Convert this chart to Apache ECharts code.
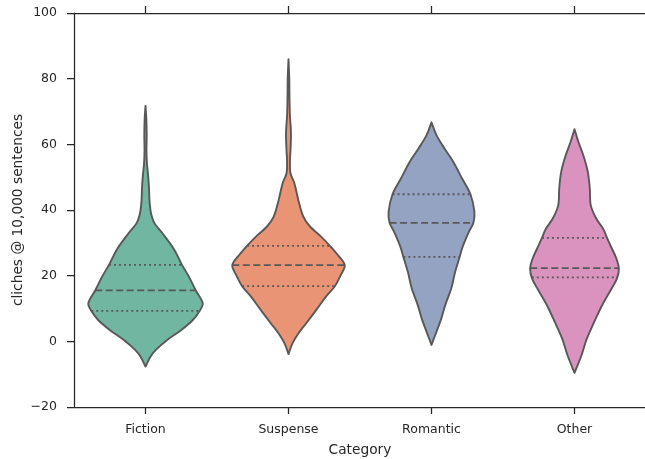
<!DOCTYPE html>
<html>
<head>
<meta charset="utf-8">
<script src="https://cdn.jsdelivr.net/npm/echarts@6/dist/echarts.min.js"></script>
<style>
  html, body { margin: 0; padding: 0; background: #ffffff; }
  #chart { width: 645px; height: 459px; }
</style>
</head>
<body>
<div id="chart"></div>
<script>
// Categories and y-axis ticks
const categories = ['Fiction', 'Suspense', 'Romantic', 'Other'];
const yTicks = [-20, 0, 20, 40, 60, 80, 100];

// Kernel density outlines: value levels (top to bottom) and density at each level
const fictionLevels   = [71.7, 68, 63, 58, 54, 51, 47, 43, 40, 38.5, 36, 33, 28, 23.3, 19.7, 15.5, 11.6, 9.3, 6.5, 3.4, 0.4, -2.6, -4.7, -7.7];
const fictionDensity  = [0, 0.8, 1.2, 1.0, 1.5, 2.5, 3.5, 4.0, 5, 6, 9, 17, 29, 37, 44, 51, 58, 55, 48, 36, 22, 10.5, 5, 0];

const suspenseLevels  = [85.9, 80, 74, 68.4, 65, 62.3, 58, 55.2, 51.2, 48.1, 43.0, 38.0, 34.9, 31.9, 29.1, 26.3, 23.2, 20.2, 16.8, 13.6, 9.5, 5.5, 2.4, -0.6, -3.9];
const suspenseDensity = [0, 0.8, 1.0, 1.5, 2.3, 2.5, 2, 1.5, 2, 6, 10, 15, 22, 33, 42, 50, 57, 53, 47, 38, 28, 18, 10, 4, 0];

const romanticLevels  = [66.7, 62.8, 58.8, 54.7, 49.6, 44.8, 39.5, 36.1, 33.4, 30.3, 28.3, 25.7, 21.2, 16.1, 11.1, 7.0, 2.9, -1.1];
const romanticDensity = [0, 5, 13, 22, 31, 39.5, 43.5, 42.5, 38, 33.5, 31, 28.5, 24, 20, 14, 10, 5, 0];

const otherLevels     = [64.6, 60.7, 56.6, 51.6, 46.5, 41.4, 37.4, 34.3, 31.5, 28.2, 25.2, 22.1, 19.1, 16.0, 11.0, 5.9, 0.8, -4.3, -9.6];
const otherDensity    = [0, 4, 9, 13.5, 15.5, 16.5, 22, 29, 33, 38, 42.5, 45, 43, 37.5, 28, 20, 12.5, 7, 0];

// Quartiles per category
const q1Values     = [9.3, 16.8, 25.7, 19.5];
const medianValues = [15.5, 23.2, 36.1, 22.3];
const q3Values     = [23.3, 29.1, 44.8, 31.5];

const fillColors = ['#71b6a1', '#e99575', '#95a3c3', '#da93bf'];
const edgeColor = '#585858';
const inkColor = '#262626';
const fontFamily = 'DejaVu Sans';

const profiles = [
  { levels: fictionLevels, density: fictionDensity },
  { levels: suspenseLevels, density: suspenseDensity },
  { levels: romanticLevels, density: romanticDensity },
  { levels: otherLevels, density: otherDensity }
];
const maxDensity = Math.max(...profiles.map(p => Math.max(...p.density)));

// Density at an arbitrary value, for sizing the quartile lines
function densityAt(p, v) {
  for (let k = 0; k < p.levels.length - 1; k++) {
    const a = p.levels[k], b = p.levels[k + 1];
    if (v <= a && v >= b) {
      const t = (a - v) / (a - b);
      return p.density[k] + t * (p.density[k + 1] - p.density[k]);
    }
  }
  return 0;
}

// Smooth curve x(y) through pixel points, written as cubic Bezier segments
function curveSegments(pts) {
  const n = pts.length;
  const slope = pts.map((pt, k) => {
    const a = pts[Math.max(k - 1, 0)];
    const b = pts[Math.min(k + 1, n - 1)];
    return (b[0] - a[0]) / (b[1] - a[1]);
  });
  let d = '';
  for (let k = 0; k < n - 1; k++) {
    const p1 = pts[k], p2 = pts[k + 1];
    const h = (p2[1] - p1[1]) / 3;
    const c1x = p1[0] + slope[k] * h, c1y = p1[1] + h;
    const c2x = p2[0] - slope[k + 1] * h, c2y = p2[1] - h;
    d += ' C' + c1x.toFixed(2) + ',' + c1y.toFixed(2) + ' ' + c2x.toFixed(2) + ',' + c2y.toFixed(2) + ' ' + p2[0].toFixed(2) + ',' + p2[1].toFixed(2);
  }
  return d;
}

function renderViolin(params, api) {
  const i = api.value(0);
  const p = profiles[i];
  const cx = api.coord([i, 0])[0];
  const band = api.size([1, 0])[0];
  const scale = 0.4 * band / maxDensity;

  const right = p.levels.map((v, k) => [cx + p.density[k] * scale, api.coord([i, v])[1]]);
  const left = p.levels.map((v, k) => [cx - p.density[k] * scale, api.coord([i, v])[1]]).reverse();

  const pathData = 'M' + right[0][0].toFixed(2) + ',' + right[0][1].toFixed(2) +
    curveSegments(right) + curveSegments(left) + ' Z';

  const children = [{
    type: 'path',
    shape: { pathData: pathData },
    style: { fill: fillColors[i], stroke: edgeColor, lineWidth: 1.9, lineJoin: 'round' }
  }];

  const quartiles = [
    { v: q1Values[i], dash: [2, 3] },
    { v: medianValues[i], dash: [7, 3.5] },
    { v: q3Values[i], dash: [2, 3] }
  ];
  quartiles.forEach(q => {
    const hw = densityAt(p, q.v) * scale;
    const y = api.coord([i, q.v])[1];
    children.push({
      type: 'line',
      shape: { x1: cx - hw, y1: y, x2: cx + hw, y2: y },
      style: { stroke: edgeColor, lineWidth: 1.8, lineDash: q.dash, lineCap: 'butt' }
    });
  });

  return { type: 'group', children: children };
}

const chart = echarts.init(document.getElementById('chart'), null, { renderer: 'canvas' });

const axisLineStyle = { color: inkColor, width: 1.25 };
const labelStyle = { color: inkColor, fontFamily: fontFamily, fontSize: 12.5 };

chart.setOption({
  animation: false,
  backgroundColor: '#ffffff',
  grid: { left: 74, width: 572, top: 13, bottom: 52, containLabel: false, outerBoundsMode: 'none' },
  xAxis: [
    {
      type: 'category',
      data: categories,
      position: 'bottom',
      name: 'Category',
      nameLocation: 'middle',
      nameGap: 36,
      nameMoveOverlap: false,
      nameTextStyle: { color: inkColor, fontFamily: fontFamily, fontSize: 13.75 },
      axisLine: { show: true, onZero: false, lineStyle: axisLineStyle },
      axisTick: { show: true, alignWithLabel: true, length: 7, lineStyle: axisLineStyle },
      axisLabel: Object.assign({ margin: 16 }, labelStyle),
      splitLine: { show: false }
    },
    {
      type: 'category',
      data: categories,
      position: 'top',
      axisLine: { show: true, onZero: false, lineStyle: axisLineStyle },
      axisTick: { show: true, alignWithLabel: true, length: 7, lineStyle: axisLineStyle },
      axisLabel: { show: false },
      splitLine: { show: false }
    }
  ],
  yAxis: [
    {
      type: 'value',
      min: yTicks[0],
      max: yTicks[yTicks.length - 1],
      interval: 20,
      name: 'cliches @ 10,000 sentences',
      nameLocation: 'middle',
      nameGap: 49,
      nameMoveOverlap: false,
      nameTextStyle: { color: inkColor, fontFamily: fontFamily, fontSize: 13.75 },
      axisLine: { show: true, onZero: false, lineStyle: axisLineStyle },
      axisTick: { show: true, length: 7, lineStyle: axisLineStyle },
      axisLabel: Object.assign({
        margin: 17,
        formatter: v => String(v).replace('-', '\u2212')
      }, labelStyle),
      splitLine: { show: false }
    }
  ],
  series: [{
    type: 'custom',
    renderItem: renderViolin,
    data: categories.map((c, i) => [i]),
    encode: { x: 0 },
    silent: true,
    clip: false
  }]
});
</script>
</body>
</html>
